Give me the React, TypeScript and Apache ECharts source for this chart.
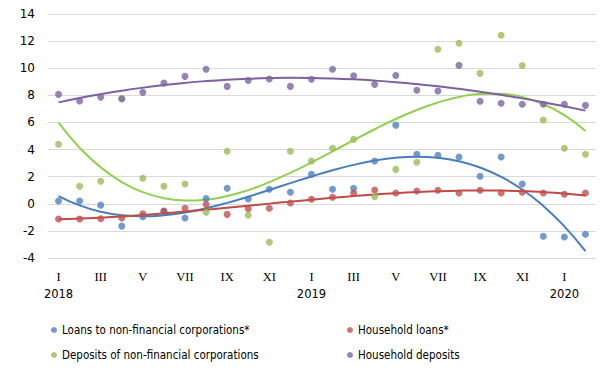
import React, { useEffect, useRef } from "react";
import * as echarts from "echarts";

const romanMonths = ["I", "II", "III", "IV", "V", "VI", "VII", "VIII", "IX", "X", "XI", "XII"];
const years = ["2018", "2019", "2020"];
const monthCount = 26;

const loansNFC = [0.2, 0.2, -0.1, -1.65, -0.95, -0.55, -1.05, 0.38, 1.15, 0.35, 1.07, 0.85,
  2.17, 1.07, 1.14, 3.15, 5.8, 3.65, 3.57, 3.45, 2.03, 3.45, 1.46, -2.4, -2.45, -2.25];
const householdLoans = [-1.12, -1.12, -1.1, -1.05, -0.73, -0.53, -0.33, -0.06, -0.78, -0.36, -0.33, 0.06,
  0.33, 0.48, 0.8, 1.02, 0.8, 0.94, 1.0, 0.8, 1.0, 0.8, 0.85, 0.8, 0.7, 0.8];
const depositsNFC: (number | null)[] = [4.39, 1.29, 1.66, 7.75, 1.88, 1.29, 1.46, -0.63, 3.87, -0.85, -2.84, 3.87,
  3.15, 4.09, 4.75, 0.52, 2.54, 3.06, 11.4, 11.84, 9.62, 12.43, 10.2, 6.18, 4.09, 3.65];
const householdDeposits = [8.07, 7.58, 7.87, 7.75, 8.22, 8.9, 9.4, 9.92, 8.66, 9.1, 9.2, 8.66,
  9.18, 9.92, 9.45, 8.81, 9.47, 8.37, 8.32, 10.21, 7.56, 7.41, 7.34, 7.34, 7.34, 7.26];

const yTicks = { min: -4, max: 14, interval: 2 };

const categories: string[] = Array.from({ length: monthCount }, (_, i) => {
  const m = i % 12;
  const y = years[Math.floor(i / 12)];
  return romanMonths[m] + "|" + y;
});

function polyFit(values: (number | null)[], order: number): number[] {
  const xs: number[] = [];
  const ys: number[] = [];
  values.forEach((v, i) => {
    if (v !== null && v !== undefined) {
      xs.push(i + 1);
      ys.push(v);
    }
  });
  const n = order + 1;
  const A: number[][] = Array.from({ length: n }, () => new Array(n + 1).fill(0));
  for (let r = 0; r < n; r++) {
    for (let c = 0; c < n; c++) {
      let s = 0;
      for (let k = 0; k < xs.length; k++) s += Math.pow(xs[k], r + c);
      A[r][c] = s;
    }
    let s = 0;
    for (let k = 0; k < xs.length; k++) s += ys[k] * Math.pow(xs[k], r);
    A[r][n] = s;
  }
  for (let i = 0; i < n; i++) {
    let p = i;
    for (let r = i + 1; r < n; r++) if (Math.abs(A[r][i]) > Math.abs(A[p][i])) p = r;
    [A[i], A[p]] = [A[p], A[i]];
    for (let r = 0; r < n; r++) {
      if (r === i) continue;
      const f = A[r][i] / A[i][i];
      for (let c = i; c <= n; c++) A[r][c] -= f * A[i][c];
    }
  }
  const coef = A.map((row, i) => row[n] / row[i]);
  return values.map((_, i) => {
    const x = i + 1;
    let y = 0;
    for (let j = 0; j < n; j++) y += coef[j] * Math.pow(x, j);
    return y;
  });
}

const seriesDefs = [
  { name: "Loans to non-financial corporations*", data: loansNFC, color: "#4F81BD", line: "#4A7EBB" },
  { name: "Household loans*", data: householdLoans, color: "#C0504D", line: "#BE4B48" },
  { name: "Deposits of non-financial corporations", data: depositsNFC, color: "#9BBB59", line: "#92D050" },
  { name: "Household deposits", data: householdDeposits, color: "#8064A2", line: "#7D60A0" },
];

export default function App() {
  const ref = useRef<HTMLDivElement>(null);
  useEffect(() => {
    if (!ref.current) return;
    const chart = echarts.init(ref.current, undefined, { renderer: "svg" });
    const series: any[] = [];
    seriesDefs.forEach((s) => {
      series.push({
        name: s.name + " trend",
        type: "line",
        data: polyFit(s.data, 3).map((v) => +v.toFixed(3)),
        smooth: true,
        showSymbol: false,
        symbol: "none",
        lineStyle: { color: s.line, width: 2 },
        z: 2,
        silent: true,
      });
    });
    seriesDefs.forEach((s, idx) => {
      series.push({
        name: s.name,
        type: "scatter",
        data: s.data,
        symbol: "circle",
        symbolSize: 7,
        itemStyle: { color: s.color },
        z: 3 + idx,
      });
    });
    const legendText = {
      fontFamily: "DejaVu Sans Condensed, DejaVu Sans",
      fontSize: 11.5,
      fontWeight: "normal",
      color: "#000",
    };
    chart.setOption({
      animation: false,
      backgroundColor: "#fff",
      grid: { left: 48, right: 16, top: 14, bottom: 116 },
      xAxis: {
        type: "category",
        data: categories,
        boundaryGap: true,
        axisLine: { show: false },
        axisTick: { show: false },
        splitLine: { show: false },
        axisLabel: {
          interval: 1,
          margin: 11,
          formatter: (v: string, i: number) => {
            const [m, y] = v.split("|");
            return i % 12 === 0 ? `{r|${m}}\n{y|${y}}` : `{r|${m}}\n{y| }`;
          },
          rich: {
            r: { fontFamily: "Liberation Serif", fontSize: 12.5, fontWeight: "normal", color: "#000", lineHeight: 16 },
            y: { fontFamily: "DejaVu Sans", fontSize: 11.5, fontWeight: "normal", color: "#000", lineHeight: 17 },
          },
        },
      },
      yAxis: {
        type: "value",
        min: yTicks.min,
        max: yTicks.max,
        interval: yTicks.interval,
        axisLine: { show: false },
        axisTick: { show: false },
        splitLine: { lineStyle: { color: "#D9D9D9", width: 1 } },
        axisLabel: { fontFamily: "DejaVu Sans", fontSize: 12, color: "#000", margin: 13 },
      },
      legend: [
        {
          orient: "vertical",
          left: 46,
          top: 319,
          itemGap: 13,
          itemWidth: 6,
          itemHeight: 6,
          icon: "circle",
          data: [seriesDefs[0].name, seriesDefs[2].name],
          textStyle: legendText,
        },
        {
          orient: "vertical",
          left: 342,
          top: 319,
          itemGap: 13,
          itemWidth: 6,
          itemHeight: 6,
          icon: "circle",
          data: [seriesDefs[1].name, seriesDefs[3].name],
          textStyle: legendText,
        },
      ],
      series,
    });
    return () => chart.dispose();
  }, []);
  return <div ref={ref} style={{ width: 612, height: 374, position: "absolute", left: 0, top: 0 }} />;
}
